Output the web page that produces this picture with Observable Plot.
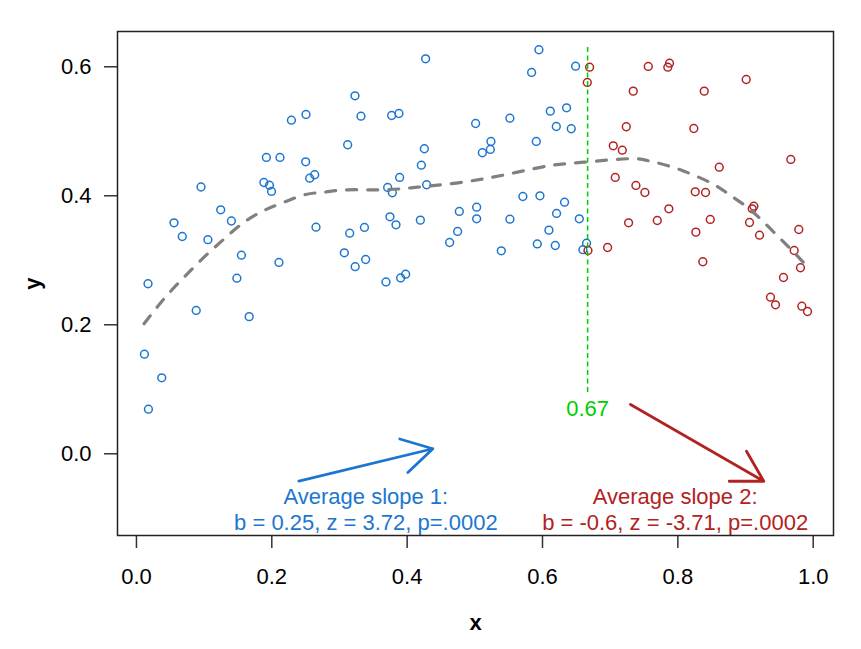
<!DOCTYPE html>
<html><head><meta charset="utf-8">
<script src="https://cdn.jsdelivr.net/npm/d3@7"></script>
<script src="https://cdn.jsdelivr.net/npm/@observablehq/plot@0.6"></script>
<style>html,body{margin:0;padding:0;background:#fff;} #chart svg{display:block}</style>
</head><body><div id="chart"></div>
<script>
// Segment 1 (x < 2/3), blue points
const blueX = [0.0118,0.0171,0.0177,0.0374,0.0555,0.0677,0.0883,0.0954,0.1056,0.1245,
  0.1403,0.1484,0.1551,0.1666,0.1883,0.1965,0.1996,0.2106,0.1920,0.2121,
  0.2290,0.2505,0.2501,0.2560,0.2634,0.2653,0.3121,0.3151,0.3072,0.3229,
  0.3318,0.3232,0.3369,0.3387,0.3687,0.3712,0.3746,0.3771,0.3781,0.3835,
  0.3879,0.3889,0.3904,0.3978,0.4195,0.4210,0.4254,0.4273,0.4288,0.4628,
  0.4746,0.4771,0.5012,0.5027,0.5027,0.5111,0.5229,0.5238,0.5391,0.5518,
  0.5518,0.5710,0.5839,0.5908,0.5923,0.5947,0.5962,0.6095,0.6115,0.6189,
  0.6204,0.6208,0.6326,0.6356,0.6425,0.6489,0.6544,0.6597,0.6651];
const blueY = [0.1544,0.2636,0.0691,0.1178,0.3581,0.3369,0.2222,0.4136,0.3319,0.3783,
  0.3609,0.2722,0.3079,0.2126,0.4206,0.4163,0.4067,0.2966,0.4594,0.4594,
  0.5172,0.5260,0.4527,0.4273,0.4326,0.3513,0.4791,0.3420,0.3116,0.5550,
  0.5234,0.2901,0.3509,0.3012,0.2664,0.4129,0.3674,0.5245,0.4047,0.3550,
  0.5276,0.4284,0.2726,0.2784,0.3622,0.4474,0.4729,0.6124,0.4171,0.3276,
  0.3447,0.3757,0.5121,0.3823,0.3643,0.4667,0.4718,0.4842,0.3147,0.5203,
  0.3637,0.3989,0.5912,0.4842,0.3253,0.6264,0.4000,0.3467,0.5312,0.3229,
  0.5074,0.3726,0.3901,0.5364,0.5039,0.6009,0.3643,0.3164,0.3265];
// Segment 2 (x >= 2/3), red points
const redX = [0.6696,0.6662,0.7563,0.7852,0.7877,0.9010,0.7341,0.8390,0.7238,0.8236,
  0.7046,0.7179,0.9669,0.8612,0.7075,0.7380,0.7513,0.8257,0.8409,0.9123,
  0.9099,0.7867,0.9059,0.7272,0.7696,0.8479,0.9787,0.8266,0.9207,0.6672,
  0.6962,0.9719,0.8369,0.9812,0.9561,0.9369,0.9443,0.9832,0.9916];
const redY = [0.5994,0.5757,0.6005,0.5994,0.6056,0.5803,0.5622,0.5622,0.5070,0.5043,
  0.4775,0.4707,0.4563,0.4443,0.4284,0.4160,0.4051,0.4062,0.4051,0.3839,
  0.3798,0.3798,0.3586,0.3581,0.3617,0.3633,0.3477,0.3436,0.3389,0.3152,
  0.3198,0.3152,0.2977,0.2884,0.2733,0.2428,0.2310,0.2288,0.2206];
// Smooth fit (dashed grey curve)
const curveX = [0.0112,0.0408,0.0703,0.0999,0.1297,0.1592,0.1885,0.2180,0.2501,0.2777,
  0.3121,0.3657,0.4151,0.4643,0.5134,0.5628,0.6120,0.6612,0.7253,0.7548,
  0.7843,0.8188,0.8532,0.8778,0.9025,0.9270,0.9517,0.9713,0.9911];
const curveY = [0.2016,0.2403,0.2738,0.3048,0.3333,0.3591,0.3772,0.3901,0.4020,0.4056,
  0.4093,0.4093,0.4133,0.4186,0.4264,0.4366,0.4470,0.4521,0.4574,0.4547,
  0.4470,0.4341,0.4175,0.4005,0.3823,0.3591,0.3333,0.3126,0.2904];
const xTicks = [0, 0.2, 0.4, 0.6, 0.8, 1.0];
const yTicks = [0, 0.2, 0.4, 0.6];
const breakX = [2 / 3];
const breakY1 = [0.095];
const breakY2 = [0.63];
const breakLabel = ["0.67"];
const breakLabelY = 0.07;
const arrow1 = [{x1: 0.240, y1: -0.0425, x2: 0.438, y2: 0.0078}];
const arrow2 = [{x1: 0.730, y1: 0.0764, x2: 0.927, y2: -0.0425}];
const label1 = ["Average slope 1:\nb = 0.25, z = 3.72, p=.0002"];
const label2 = ["Average slope 2:\nb = -0.6, z = -3.71, p=.0002"];
const labelX = [0.339, 0.796];
const labelY = -0.0857;

const BLUE = "#1C76D0", RED = "#B22222", GREEN = "#00CD00", GREY = "#808080";
const FS = 22;

const chart = Plot.plot({
  width: 861, height: 649,
  marginLeft: 117, marginRight: 28, marginTop: 31, marginBottom: 114,
  style: {fontFamily: "'Liberation Sans', Arial, sans-serif", fontSize: FS + "px", background: "white", color: "#000", overflow: "visible"},
  x: {domain: [-0.028, 1.030]},
  y: {domain: [-0.1267, 0.6547]},
  marks: [
    Plot.axisX({ticks: xTicks, tickFormat: d3.format(".1f"), tickSize: 13, tickPadding: 20, stroke: "#333", strokeWidth: 1.5, fill: "#000", fontSize: FS, label: null}),
    Plot.axisY({ticks: yTicks, tickFormat: d3.format(".1f"), tickSize: 13, tickPadding: 13, stroke: "#333", strokeWidth: 1.5, fill: "#000", fontSize: FS, label: null}),
    Plot.text(["x"], {frameAnchor: "bottom", dy: 87.5, textAnchor: "middle", lineAnchor: "middle", fontWeight: "bold", fontSize: FS, fill: "#000"}),
    Plot.text(["y"], {frameAnchor: "left", dx: -85, rotate: -90, textAnchor: "middle", lineAnchor: "middle", fontWeight: "bold", fontSize: FS, fill: "#000"}),
    Plot.dot(blueX, {x: d => d, y: (d, i) => blueY[i], r: 3.9, stroke: BLUE, strokeWidth: 1.5, fill: "none"}),
    Plot.dot(redX, {x: d => d, y: (d, i) => redY[i], r: 3.9, stroke: RED, strokeWidth: 1.5, fill: "none"}),
    Plot.line(curveX, {x: d => d, y: (d, i) => curveY[i], curve: "natural", stroke: GREY, strokeWidth: 3.2, strokeDasharray: "10,11", strokeLinecap: "round"}),
    Plot.ruleX(breakX, {x: d => d, y1: (d, i) => breakY1[i], y2: (d, i) => breakY2[i], stroke: GREEN, strokeWidth: 1.5, strokeDasharray: "5,3.5"}),
    Plot.text(breakLabel, {x: breakX[0], y: breakLabelY, text: d => d, fill: GREEN, fontSize: FS}),
    Plot.arrow(arrow1, {x1: "x1", y1: "y1", x2: "x2", y2: "y2", stroke: BLUE, strokeWidth: 2.8, headLength: 18.5, headAngle: 60}),
    Plot.arrow(arrow2, {x1: "x1", y1: "y1", x2: "x2", y2: "y2", stroke: RED, strokeWidth: 2.8, headLength: 18.5, headAngle: 60}),
    Plot.text(label1, {x: labelX[0], y: labelY, text: d => d, fill: BLUE, fontSize: FS, lineHeight: 1.165}),
    Plot.text(label2, {x: labelX[1], y: labelY, text: d => d, fill: RED, fontSize: FS, lineHeight: 1.165}),
    Plot.frame({stroke: "#222", strokeWidth: 1.5})
  ]
});
document.getElementById("chart").appendChild(chart);
</script>
</body></html>
